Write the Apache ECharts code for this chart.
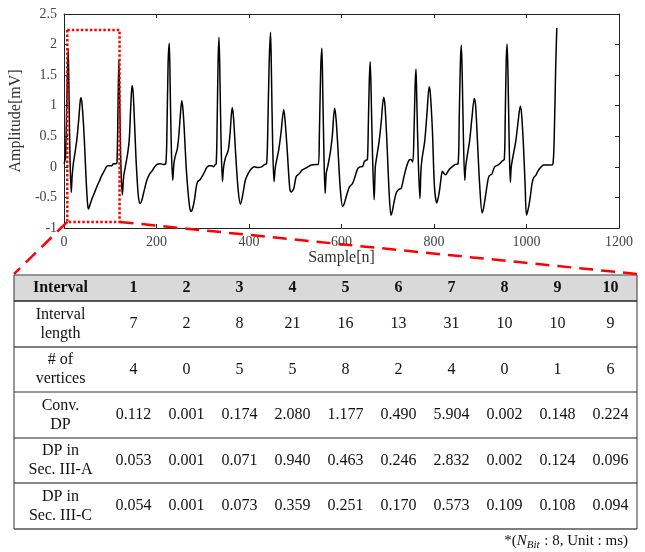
<!DOCTYPE html>
<html>
<head>
    <meta charset="utf-8">
    <title>ECG interval table</title>
    <script src="https://cdn.jsdelivr.net/npm/echarts@6/dist/echarts.min.js"></script>
    <style>
        html, body { margin: 0; padding: 0; background: #fff; }
        #chart { width: 645px; height: 552px; }
    </style>
</head>
<body>
<div id="chart"></div>
<script type="text/javascript">
    // ---- data ----
    // ECG trace: [sample, amplitude mV]
    var ecg = [
        [0, 0.05], [3, 0.15], [6, 1.1], [9, 1.93], [11, 1.0], [13, 0.1], [15.5, -0.42], [17.5, -0.15], [20, 0.05],
        [24, 0.25], [28, 0.47], [32, 0.8], [35, 1.08], [37, 1.13], [39, 1.02], [42, 0.7], [45, 0.25], [48, -0.25],
        [51, -0.62], [53, -0.69], [56, -0.62], [61, -0.51], [66, -0.42], [71, -0.32], [76, -0.24], [81, -0.15],
        [86, -0.08], [90, -0.02], [94, 0.02], [99, 0.02], [103, 0.02], [107, 0.05], [112, 0.05], [114.5, 0.08],
        [116.5, 0.9], [118.5, 1.75], [121, 0.8], [123, 0.0], [126, -0.46],
        [129, -0.15], [132.5, 0.0], [137.5, 0.22], [141, 0.45], [144, 0.95], [147, 1.33], [149.5, 1.2], [152.5, 0.7],
        [155.5, 0.15], [158, -0.2], [161, -0.5], [164.5, -0.6], [168, -0.55], [173.5, -0.38], [179, -0.22],
        [184, -0.13], [190, -0.07], [195, -0.01], [201, 0.04], [208, 0.05], [215, 0.04], [220, 0.05],
        [222.5, 0.6], [225, 1.7], [227.5, 2.02], [229.5, 1.3], [232, 0.3], [235, -0.22],
        [237.5, 0.05], [240, 0.16], [245, 0.3], [248, 0.5], [251, 0.8], [254.5, 1.08], [257, 0.95], [260, 0.6],
        [264, 0.0], [268, -0.4], [272, -0.68], [275, -0.73], [278, -0.68], [282, -0.54], [286, -0.32], [289, -0.24],
        [294, -0.21], [299, -0.15], [304, -0.08], [308.5, -0.01], [314, 0.02], [319, 0.02], [323, 0.0], [326, 0.03],
        [329, 0.05], [331, 0.7], [333, 1.7], [335, 2.12], [337, 1.5], [339.5, 0.4], [342.5, -0.24],
        [345, 0.0], [349, 0.15], [355, 0.27], [359, 0.55], [363.5, 0.97], [366.5, 0.8], [371, 0.22], [376.5, -0.38],
        [381.5, -0.61], [387, -0.43], [392, -0.22], [398, -0.11], [405, -0.03], [412, 0.0], [419, -0.01], [427, 0.0],
        [434, 0.04], [438, 0.05], [440.5, 0.6], [443.5, 1.7], [446.5, 2.2], [448.5, 1.5], [451, 0.4], [454, -0.24],
        [457, 0.0], [464, 0.27], [469, 0.55], [475, 0.94], [478, 0.75], [483, 0.22], [488, -0.35], [491, -0.41],
        [494, -0.39], [497, -0.35], [502, -0.16], [509, -0.11], [515, -0.05], [520, -0.03], [527, 0.0], [534.5, 0.03],
        [545, 0.04], [550, 0.04], [552, 0.5], [555, 1.6], [557.5, 1.94], [559.5, 1.2], [562, 0.2], [564.5, -0.43],
        [567, -0.1], [570, 0.0], [576, 0.25], [580, 0.5], [585, 0.96], [588, 0.8], [592, 0.33], [597.5, -0.38],
        [602.5, -0.65], [606, -0.6], [610, -0.49], [617, -0.33], [624, -0.27], [630, -0.14], [635, -0.03], [640, 0.0],
        [646, 0.01], [649, 0.08], [653, 0.11], [656, 0.12], [658, 0.7], [660, 1.4], [662, 1.72], [664, 1.2],
        [667, 0.2], [670.5, -0.54],
        [673, 0.0], [675, 0.11], [681.5, 0.43], [686, 0.75], [691, 1.14], [694, 1.0], [698, 0.43], [703, -0.43],
        [707, -0.79], [710, -0.72], [714, -0.56], [719, -0.41], [724, -0.37], [729, -0.35], [735, -0.16], [740, -0.01],
        [746, 0.11], [750, 0.12], [754, 0.08], [756.5, 0.5], [759, 1.3], [761, 1.6], [763, 1.0], [766, 0.1], [769.5, -0.52],
        [771.5, -0.1], [773.5, 0.1], [780, 0.43], [785, 0.9], [789.5, 1.31], [792, 1.2], [796.5, 0.6], [801, -0.33],
        [806, -0.59], [811, -0.43], [815, -0.2], [818, -0.07], [821, -0.1], [825, -0.13], [832, -0.05], [839, 0.0],
        [846, 0.04], [852, 0.05], [854.5, 0.8], [857, 1.7], [859, 1.99], [861, 1.5], [863.5, 0.5], [866.5, -0.22],
        [868.5, 0.0], [871, 0.14], [877, 0.43], [882, 0.8], [887, 1.12], [890, 1.0], [894.5, 0.33], [899, -0.33],
        [904, -0.75], [907, -0.68], [911, -0.49], [917, -0.2], [920, -0.14], [925, -0.12], [931, 0.0], [938, 0.03],
        [943, 0.06], [948, 0.1], [952, 0.12], [954, 0.8], [956, 1.7], [958, 2.01], [960, 1.5], [962.5, 0.4], [965, -0.25],
        [967, 0.0], [972, 0.22], [977, 0.43], [982, 0.75], [986.5, 0.99], [989.5, 0.85], [993.5, 0.33], [997, -0.3],
        [1000, -0.79], [1004, -0.68], [1008, -0.5], [1012, -0.27], [1016, -0.17], [1020, -0.14], [1024, -0.08],
        [1028, -0.03], [1033, 0.01], [1037, 0.03], [1045, 0.03], [1052, 0.03], [1057, 0.04], [1060, 0.5],
        [1063, 1.6], [1065.5, 2.27]
    ];
    // zoomed region [xmin, xmax, ymin, ymax]
    var zoomBox = [7, 120, -0.9, 2.24];

    // table
    var intervals = ['1', '2', '3', '4', '5', '6', '7', '8', '9', '10'];
    var rowLabels = ['Interval\nlength', '# of\nvertices', 'Conv.\nDP', 'DP in\nSec. III-A', 'DP in\nSec. III-C'];
    var intervalLength = [7, 2, 8, 21, 16, 13, 31, 10, 10, 9];
    var vertices = [4, 0, 5, 5, 8, 2, 4, 0, 1, 6];
    var convDP = [0.112, 0.001, 0.174, 2.080, 1.177, 0.490, 5.904, 0.002, 0.148, 0.224];
    var dpSecA = [0.053, 0.001, 0.071, 0.940, 0.463, 0.246, 2.832, 0.002, 0.124, 0.096];
    var dpSecC = [0.054, 0.001, 0.073, 0.359, 0.251, 0.170, 0.573, 0.109, 0.108, 0.094];

    var serif = '"Liberation Serif", "Times New Roman", serif';
    var myChart = echarts.init(document.getElementById('chart'));

    var boxPts = [
        [zoomBox[0], zoomBox[3]], [zoomBox[1], zoomBox[3]], [zoomBox[1], zoomBox[2]],
        [zoomBox[0], zoomBox[2]], [zoomBox[0], zoomBox[3]]
    ];

    var axisCommon = {
        axisLine: {show: true, onZero: false, lineStyle: {color: '#222', width: 1}},
        axisTick: {show: true, inside: true, length: 4, lineStyle: {color: '#222'}},
        splitLine: {show: false}
    };
    var labelStyle = {
        color: '#444', fontFamily: serif, fontSize: 14, margin: 7,
        formatter: function (v) { return String(v); }
    };

    myChart.setOption({
        animation: false,
        grid: {left: 62, right: 26, top: 14, bottom: 324},
        xAxis: [
            Object.assign({
                type: 'value', min: 0, max: 1200, interval: 200, position: 'bottom',
                name: 'Sample[n]', nameLocation: 'middle', nameGap: 21,
                nameTextStyle: {color: '#333', fontFamily: serif, fontSize: 16},
                axisLabel: labelStyle
            }, axisCommon),
            Object.assign({
                type: 'value', min: 0, max: 1200, interval: 200, position: 'top',
                axisLabel: {show: false}
            }, axisCommon)
        ],
        yAxis: [
            Object.assign({
                type: 'value', min: -1, max: 2.5, interval: 0.5, position: 'left',
                name: 'Amplitude[mV]', nameLocation: 'middle', nameGap: 32,
                nameTextStyle: {color: '#333', fontFamily: serif, fontSize: 16},
                axisLabel: labelStyle
            }, axisCommon),
            Object.assign({
                type: 'value', min: -1, max: 2.5, interval: 0.5, position: 'right',
                axisLabel: {show: false}
            }, axisCommon)
        ],
        series: [
            {
                name: 'ECG',
                type: 'line',
                data: ecg,
                showSymbol: false,
                smooth: 0.3,
                lineStyle: {color: '#000', width: 1.5}
            },
            {
                name: 'zoom',
                type: 'line',
                data: boxPts,
                showSymbol: false,
                z: 5,
                lineStyle: {color: '#ff0000', width: 2.5, type: [2.5, 2]}
            }
        ]
    });

    // ---- table below the chart ----
    var tLeft = 14, tRight = 637, tTop = 275, headBottom = 301;
    var rowBottoms = [347, 392, 438, 483, 529];
    var firstColW = 93, colW = 53;
    var g = [];

    var bl = myChart.convertToPixel({xAxisIndex: 0, yAxisIndex: 0}, [zoomBox[0], zoomBox[2]]);
    var br = myChart.convertToPixel({xAxisIndex: 0, yAxisIndex: 0}, [zoomBox[1], zoomBox[2]]);
    var dash = {stroke: '#ff0000', lineWidth: 2.5, lineDash: [14, 8]};
    g.push({type: 'line', shape: {x1: bl[0], y1: bl[1], x2: tLeft, y2: tTop - 1}, style: dash, z: 10});
    g.push({type: 'line', shape: {x1: br[0], y1: br[1], x2: tRight, y2: tTop - 1}, style: dash, z: 10});

    g.push({type: 'rect', shape: {x: tLeft, y: tTop, width: tRight - tLeft, height: headBottom - tTop},
        style: {fill: '#d9d9d9'}});

    function hline(y, color, w) {
        g.push({type: 'line', shape: {x1: tLeft, y1: y, x2: tRight, y2: y}, style: {stroke: color, lineWidth: w}, z: 3});
    }
    hline(tTop, '#777', 1.5);
    hline(headBottom, '#222', 1.5);
    hline(rowBottoms[0], '#808080', 2);
    hline(rowBottoms[1], '#333', 1.2);
    hline(rowBottoms[2], '#222', 1.2);
    hline(rowBottoms[3], '#888', 2);
    hline(rowBottoms[4], '#555', 1.5);
    g.push({type: 'line', shape: {x1: tLeft, y1: tTop, x2: tLeft, y2: rowBottoms[4]}, style: {stroke: '#333', lineWidth: 1}, z: 3});
    g.push({type: 'line', shape: {x1: tRight, y1: tTop, x2: tRight, y2: rowBottoms[4]}, style: {stroke: '#333', lineWidth: 1}, z: 3});

    function cellText(txt, x, y, bold) {
        g.push({
            type: 'text', z: 4,
            style: {
                text: txt, x: x, y: y, fill: '#111', align: 'center', verticalAlign: 'middle',
                font: (bold ? 'bold ' : '') + '16px ' + serif, lineHeight: 19
            }
        });
    }
    function colX(i) { return tLeft + firstColW + colW * (i + 0.5); }

    var headMid = (tTop + headBottom) / 2;
    cellText('Interval', tLeft + firstColW / 2, headMid, true);
    intervals.forEach(function (t, i) { cellText(t, colX(i), headMid, true); });

    var rows = [
        intervalLength.map(String),
        vertices.map(String),
        convDP.map(function (v) { return v.toFixed(3); }),
        dpSecA.map(function (v) { return v.toFixed(3); }),
        dpSecC.map(function (v) { return v.toFixed(3); })
    ];
    rows.forEach(function (row, r) {
        var top = r === 0 ? headBottom : rowBottoms[r - 1];
        var mid = (top + rowBottoms[r]) / 2;
        cellText(rowLabels[r], tLeft + firstColW / 2, mid, false);
        row.forEach(function (v, i) { cellText(v, colX(i), mid, false); });
    });

    // footnote
    g.push({
        type: 'text', z: 4,
        style: {
            text: '*({n|N}{s|Bit} : 8, Unit : ms)',
            x: 628, y: 541, align: 'right', verticalAlign: 'middle',
            fill: '#111', font: '15px ' + serif,
            rich: {
                n: {fontFamily: serif, fontSize: 15, fontStyle: 'italic', fill: '#111'},
                s: {fontFamily: serif, fontSize: 11, fontStyle: 'italic', fill: '#111', padding: [8, 1, 0, 0]}
            }
        }
    });

    myChart.setOption({graphic: g});
</script>
</body>
</html>
